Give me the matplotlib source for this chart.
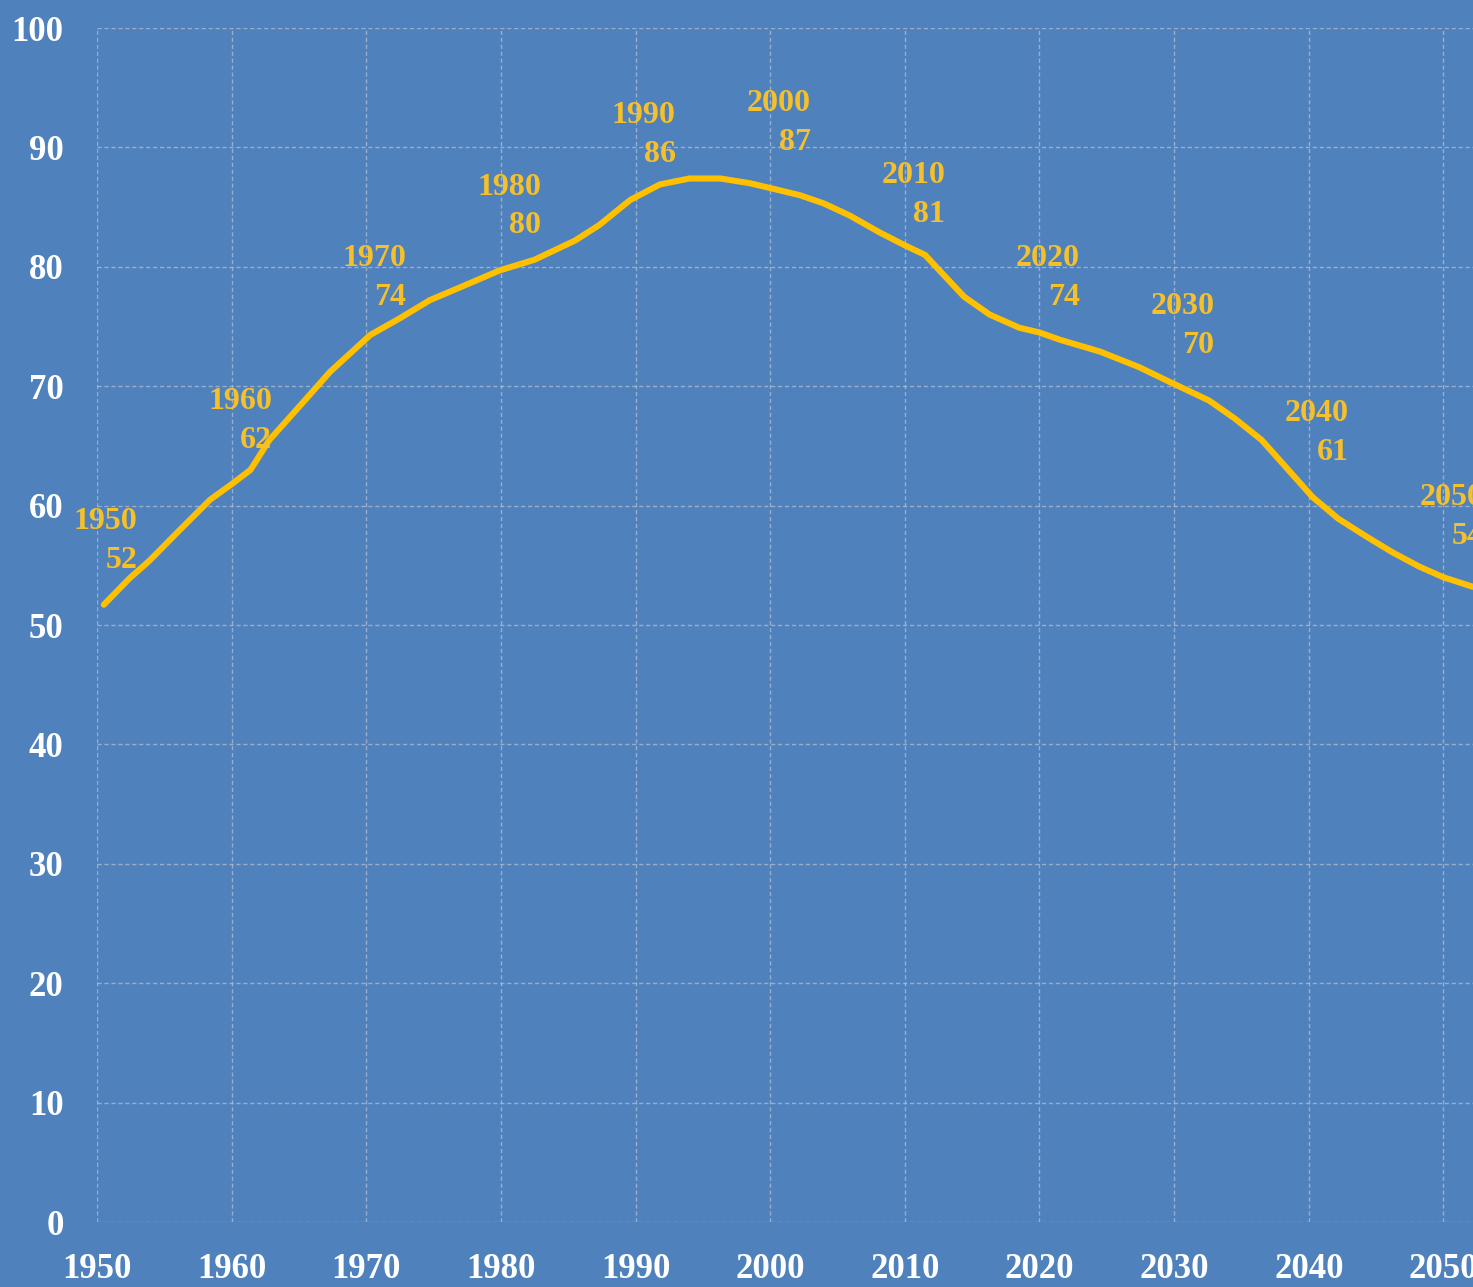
import matplotlib.pyplot as plt

# curve
years = [1950.5, 1952.4, 1953.9, 1956.0, 1958.4, 1960.0, 1961.4, 1962.8, 1965.1, 1967.3,
         1970.3, 1972.5, 1974.7, 1977.0, 1979.9, 1982.5, 1985.5, 1987.3, 1989.6,
         1991.8, 1994.0, 1996.3, 1998.5, 2000.0, 2002.2, 2004.0, 2005.9, 2008.1,
         2010.0, 2011.5, 2012.9, 2014.4, 2016.3, 2018.5, 2020.0, 2021.5, 2024.5,
         2027.4, 2029.6, 2032.6, 2034.5, 2036.5, 2038.4, 2040.3, 2042.2, 2044.3,
         2046.2, 2048.2, 2050.0, 2052.2]
values = [51.7, 53.9, 55.4, 57.8, 60.5, 61.8, 63.0, 65.5, 68.4, 71.2,
          74.3, 75.7, 77.2, 78.3, 79.7, 80.6, 82.2, 83.5, 85.6,
          86.9, 87.4, 87.4, 87.0, 86.6, 86.0, 85.3, 84.3, 82.9,
          81.8, 81.0, 79.3, 77.5, 76.0, 74.9, 74.5, 73.9, 72.9,
          71.6, 70.4, 68.8, 67.3, 65.5, 63.1, 60.7, 58.9, 57.4,
          56.1, 54.9, 54.0, 53.2]

# labelled decades
label_years = [1950, 1960, 1970, 1980, 1990, 2000, 2010, 2020, 2030, 2040, 2050]
label_values = [52, 62, 74, 80, 86, 87, 81, 74, 70, 61, 54]

bg = '#4F81BD'
yellow = '#FFC000'

fig = plt.figure(figsize=(14.73, 12.87), dpi=100, facecolor=bg)
ax = fig.add_axes([0.0659, 0.0505, 0.9341, 0.9277], facecolor=bg)

ax.plot(years, values, color=yellow, lw=4.4, solid_capstyle='round',
        solid_joinstyle='round', zorder=3)

for yr, v in zip(label_years, label_values):
    ax.annotate(f"{yr}\n{v}", xy=(yr, v), xytext=(29, 19), textcoords='offset points',
                ha='right', va='bottom', multialignment='right', linespacing=1.45,
                color='#F5C02A', fontsize=23, fontweight='bold',
                family='Liberation Serif', zorder=4, annotation_clip=False)

ax.set_xlim(1950, 2052.2)
ax.set_ylim(0, 100)
ax.set_xticks(range(1950, 2060, 10))
ax.set_yticks(range(0, 101, 10))
ax.grid(True, color='#B4BECE', ls=(0, (3, 2)), lw=1.0, alpha=0.75)
for s in ax.spines.values():
    s.set_visible(False)
ax.tick_params(length=0, colors='white', labelsize=25)
ax.tick_params(axis='y', pad=24)
ax.tick_params(axis='x', pad=22)
for lab in ax.get_xticklabels() + ax.get_yticklabels():
    lab.set_family('Liberation Serif')
    lab.set_fontweight('bold')
    lab.set_clip_on(False)

fig.savefig('out.png', dpi=100, facecolor=bg)
